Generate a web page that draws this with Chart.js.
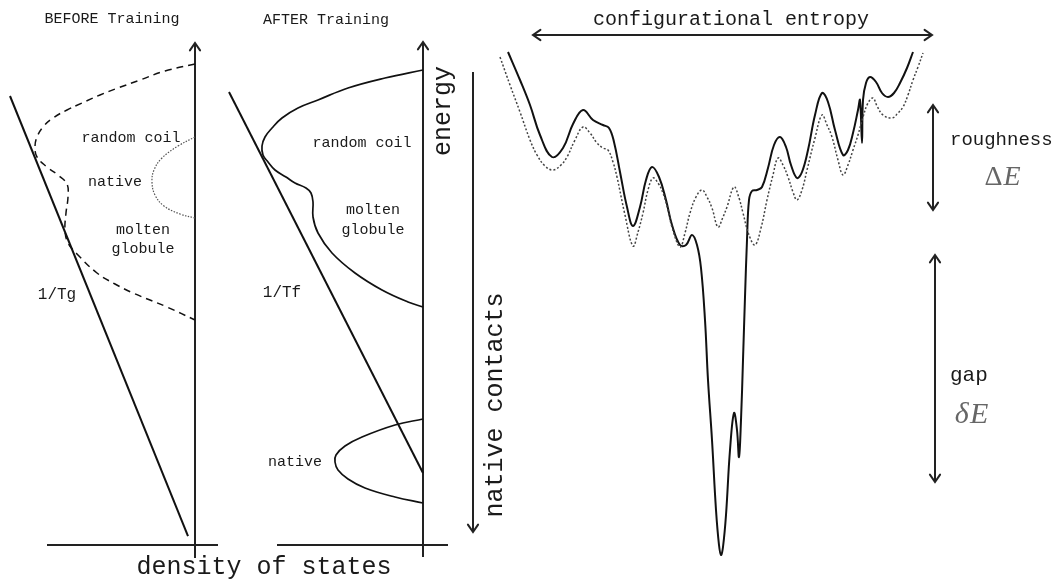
<!DOCTYPE html>
<html>
<head>
<meta charset="utf-8">
<script src="https://cdn.jsdelivr.net/npm/chart.js@4"></script>
<style>
html, body { margin: 0; padding: 0; background: #fff; }
#wrap { width: 1056px; height: 581px; position: relative; }
</style>
</head>
<body>
<div id="wrap"><canvas id="myChart"></canvas></div>
<script>
// all values, in sketch units (x to the right, y downwards)
let beforeGlassLine = [[10, 96], [188, 536]];
let beforeStates = [[195,64],[165,71],[140,80],[118,88],[100,95],[82,103],[67,110],[53,118],[43,127],[37,137],[35,147],[37,157],[47,167],[58,175],[67,184],[68,197],[66,213],[65,230],[68,243],[77,254],[97,273],[115,284],[133,293],[167,307],[195,320]];
let beforeNative = [[195,137],[178,146],[162,158],[154,170],[152,182],[155,195],[164,206],[180,214],[195,218]];

let afterFoldLine = [[229, 92], [423, 473]];
let afterStates = [[423,70],[385,78],[348,88],[318,100],[298,108],[282,118],[272,128],[265,137],[262,146],[263,155],[268,162],[275,170],[286,177],[295,183],[306,188],[311,193],[313,202],[313,217],[318,233],[332,253],[355,273],[382,290],[408,302],[423,307]];
let afterNative = [[423,419],[395,425],[362,437],[345,446],[336,455],[335,462],[338,470],[348,479],[365,488],[395,497],[423,503]];

let funnelSolid = [[508,52],[520,80],[530,105],[540,135],[552,157],[563,148],[573,124],[583,110],[593,120],[603,125],[609,128],[614,142],[620,172],[627,207],[633,226],[640,207],[646,180],[652,167],[659,177],[666,200],[672,225],[680,245],[686,245],[692,235],[697,245],[701,268],[705,320],[708,380],[712,440],[716,510],[719,545],[721,555],[723,547],[726,515],[730,450],[734,413],[737,430],[739,457],[741,420],[743,360],[745,297],[747,240],[749,200],[752,191],[757,190],[762,187],[768,168],[774,145],[780,137],[786,147],[791,165],[797,178],[802,172],[808,150],[815,115],[822,93],[828,102],[835,130],[843,155],[848,150],[853,133],[858,110],[860,100],[862,143],[863,100],[866,83],[870,77],[876,82],[882,93],[888,97],[894,93],[900,83],[907,68],[913,52]];
let funnelDotted = [[500,57],[510,85],[520,112],[530,140],[537,155],[545,166],[553,170],[561,165],[567,157],[575,140],[583,127],[590,133],[597,143],[603,148],[608,150],[613,162],[617,177],[625,215],[633,246],[638,232],[643,213],[648,190],[653,178],[658,183],[663,193],[668,210],[672,227],[680,247],[685,233],[690,213],[696,197],[702,190],[707,197],[712,208],[718,227],[723,217],[727,207],[734,187],[739,198],[743,213],[749,235],[755,245],[761,228],[767,200],[773,175],[778,158],[783,165],[788,177],[793,192],[797,200],[802,190],[807,170],[815,138],[822,115],[827,125],[832,137],[838,160],[843,175],[848,165],[853,150],[858,135],[863,117],[868,103],[873,98],[877,106],[883,115],[892,118],[898,113],[903,107],[908,95],[913,80],[918,67],[923,53]];

// axes and arrows: x1, y1, x2, y2, heads (0 none, 1 at end, 2 at start, 3 both)
let arrows = [
  [195, 558, 195, 43, 1],
  [47, 545, 218, 545, 0],
  [423, 557, 423, 42, 1],
  [277, 545, 448, 545, 0],
  [473, 72, 473, 532, 1],
  [533, 35, 932, 35, 3],
  [933, 105, 933, 210, 3],
  [935, 255, 935, 482, 3]
];

// text, x, y, kind
let labels = [
  ['BEFORE Training', 112, 19, 'title'],
  ['AFTER Training', 326, 20, 'title'],
  ['random coil', 131, 138, 'small'],
  ['native', 115, 182, 'small'],
  ['molten', 143, 230, 'small'],
  ['globule', 143, 249, 'small'],
  ['1/Tg', 57, 295, 'tee'],
  ['random coil', 362, 143, 'small'],
  ['molten', 373, 210, 'small'],
  ['globule', 373, 230, 'small'],
  ['1/Tf', 282, 293, 'tee'],
  ['native', 295, 462, 'small'],
  ['energy', 443, 111, 'bigUp'],
  ['native contacts', 495, 405, 'bigUp'],
  ['density of states', 264, 567, 'big'],
  ['configurational entropy', 731, 20, 'mid'],
  ['roughness', 950, 140, 'midLeft'],
  ['gap', 950, 375, 'gap']
];
let greek = [
  ['Δ', 'E', 1002, 178, 28],
  ['δ', 'E', 971, 415, 30]
];

let fonts = {
  title: '15px "Liberation Mono"',
  small: '15px "Liberation Mono"',
  tee: '16px "Liberation Mono"',
  big: '25px "Liberation Mono"',
  bigUp: '25px "Liberation Mono"',
  mid: '20px "Liberation Mono"',
  midLeft: '19px "Liberation Mono"',
  gap: '21px "Liberation Mono"'
};

const pts = a => a.map(p => ({ x: p[0], y: p[1] }));
const line = (a, extra) => Object.assign({
  data: pts(a), showLine: true, pointRadius: 0, borderColor: '#111',
  borderWidth: 1.7, tension: 0, fill: false
}, extra);

let datasets = [
  line(beforeGlassLine, { borderWidth: 2 }),
  line(beforeStates, { tension: 0.4, borderDash: [7, 5], borderWidth: 1.5 }),
  line(beforeNative, { tension: 0.4, borderDash: [1.5, 1.5], borderWidth: 1.2, borderColor: '#555' }),
  line(afterFoldLine, { borderWidth: 2 }),
  line(afterStates, { tension: 0.4 }),
  line(afterNative, { tension: 0.4 }),
  line(funnelDotted, { tension: 0.4, borderDash: [2, 2], borderWidth: 1.5, borderColor: '#444' }),
  line(funnelSolid, { tension: 0.4, borderWidth: 2 })
];
arrows.forEach(a => datasets.push(line([[a[0], a[1]], [a[2], a[3]]], { borderWidth: 2, borderColor: '#222' })));

const sketchLayer = {
  id: 'sketchLayer',
  afterDatasetsDraw(chart) {
    const { ctx, scales: { x, y } } = chart;
    ctx.save();
    ctx.strokeStyle = '#222';
    ctx.lineWidth = 2;
    ctx.lineCap = 'round';
    const head = (px, py, fx, fy) => {
      let ang = Math.atan2(py - fy, px - fx);
      ctx.beginPath();
      ctx.moveTo(px - 9 * Math.cos(ang - 0.6), py - 9 * Math.sin(ang - 0.6));
      ctx.lineTo(px, py);
      ctx.lineTo(px - 9 * Math.cos(ang + 0.6), py - 9 * Math.sin(ang + 0.6));
      ctx.stroke();
    };
    arrows.forEach(a => {
      let x1 = x.getPixelForValue(a[0]), y1 = y.getPixelForValue(a[1]);
      let x2 = x.getPixelForValue(a[2]), y2 = y.getPixelForValue(a[3]);
      if (a[4] & 1) head(x2, y2, x1, y1);
      if (a[4] & 2) head(x1, y1, x2, y2);
    });

    ctx.fillStyle = '#1a1a1a';
    ctx.textBaseline = 'middle';
    labels.forEach(l => {
      let px = x.getPixelForValue(l[1]), py = y.getPixelForValue(l[2]);
      ctx.font = fonts[l[3]];
      ctx.textAlign = (l[3] == 'midLeft' || l[3] == 'gap') ? 'left' : 'center';
      if (l[3] == 'bigUp') {
        ctx.save();
        ctx.translate(px, py);
        ctx.rotate(-Math.PI / 2);
        ctx.fillText(l[0], 0, 0);
        ctx.restore();
      } else {
        ctx.fillText(l[0], px, py);
      }
    });

    ctx.fillStyle = '#666';
    ctx.textAlign = 'left';
    greek.forEach(g => {
      let px = x.getPixelForValue(g[2]), py = y.getPixelForValue(g[3]);
      ctx.font = g[4] + 'px "Liberation Serif"';
      let w1 = ctx.measureText(g[0]).width;
      ctx.font = 'italic ' + g[4] + 'px "Liberation Serif"';
      let w2 = ctx.measureText(g[1]).width;
      let left = px - (w1 + w2) / 2;
      ctx.font = (g[0] == 'δ' ? 'italic ' : '') + g[4] + 'px "Liberation Serif"';
      ctx.fillText(g[0], left, py);
      ctx.font = 'italic ' + g[4] + 'px "Liberation Serif"';
      ctx.fillText(g[1], left + w1 + 1, py);
    });
    ctx.restore();
  }
};

let ctx = document.getElementById('myChart');
let myChart = new Chart(ctx, {
  type: 'scatter',
  data: { datasets: datasets },
  options: {
    responsive: true,
    maintainAspectRatio: false,
    animation: false,
    layout: { padding: 0 },
    plugins: { legend: { display: false }, tooltip: { enabled: false } },
    scales: {
      x: { type: 'linear', min: 0, max: 1056, display: false },
      y: { type: 'linear', min: 0, max: 581, reverse: true, display: false }
    }
  },
  plugins: [sketchLayer]
});
</script>
</body>
</html>
